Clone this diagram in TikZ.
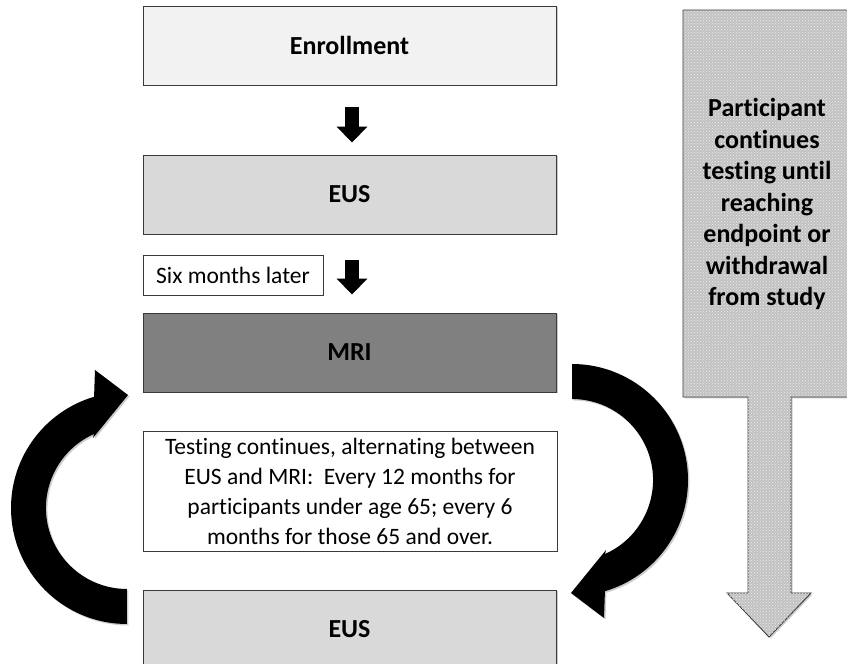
\documentclass[tikz,border=0pt]{standalone}
\usepackage{fontspec}
\setmainfont{Carlito}[Ligatures=NoCommon]
\usetikzlibrary{arrows.meta,patterns,shadows,calc}
\definecolor{bordergray}{HTML}{3A3A3A}
\definecolor{enrfill}{HTML}{F2F2F2}
\definecolor{eusfill}{HTML}{D9D9D9}
\definecolor{mrifill}{HTML}{808080}
\definecolor{bigarrowfill}{HTML}{C2C2C2}
\begin{document}
\begin{tikzpicture}[x=1pt,y=1pt,
  softshadow/.style={drop shadow={shadow xshift=1.5pt,shadow yshift=-1.5pt,fill=black,opacity=0.2}},
  stagebox/.style={draw=bordergray,line width=0.9pt,minimum width=413pt,minimum height=79pt,
    inner sep=0pt,font=\fontsize{26}{30}\selectfont\bfseries,softshadow},
  plainbox/.style={draw=bordergray,line width=0.9pt,fill=white,inner sep=0pt,
    font=\fontsize{23.5}{30}\selectfont,align=center},
  blockarrow/.style={line width=14pt,black,-{Triangle[width=30pt,length=16pt]}},
  curvearrow/.style={fill=black,draw=none,softshadow},
  bigarrow/.style={draw=bordergray,line width=0.9pt,fill=bigarrowfill,softshadow}
]
\useasboundingbox (0,0) rectangle (847,664);
\clip (0,0) rectangle (847,664);

% right big arrow
\path[bigarrow] (683,654) -- (860,654) -- (860,267) -- (791,267) -- (791,71)
  -- (811,71) -- (769,27) -- (727,71) -- (748,71) -- (748,267) -- (683,267) -- cycle;
\path[pattern=crosshatch dots,pattern color=white!85!gray] (683,654) -- (860,654) -- (860,267) -- (791,267) -- (791,71)
  -- (811,71) -- (769,27) -- (727,71) -- (748,71) -- (748,267) -- (683,267) -- cycle;
\node[font=\fontsize{26}{31.5}\selectfont\bfseries,align=center] (cont) at (767,460)
  {Participant\\continues\\testing until\\reaching\\endpoint or\\withdrawal\\from study};

% boxes
\node[stagebox,fill=enrfill] (enr) at (349.5,618.5) {Enrollment};
\node[stagebox,fill=eusfill] (eus1) at (349.5,469.5) {EUS};
\node[plainbox,minimum width=180pt,minimum height=40pt] (sixm) at (233,389) {Six months later};
\node[stagebox,fill=mrifill] (mri) at (349.5,311.5) {MRI};
\node[plainbox,minimum width=414pt,minimum height=120pt] (note) at (350,172.5)
  {Testing continues, alternating between\\EUS and MRI:\ \ Every 12 months for\\participants under age 65; every 6\\months for those 65 and over.};
\node[stagebox,fill=eusfill] (eus2) at (349.5,34.5) {EUS};

% straight block arrows
\draw[blockarrow] ($(enr.south)+(2.5,-22)$) -- ($(eus1.north)+(2.5,12)$);
\draw[blockarrow] ($(eus1.south)+(2.5,-26)$) -- ($(mri.north)+(2.5,18)$);

% left curved arrow (from bottom EUS up to MRI)
\path[curvearrow] (127,40) arc[start angle=270,end angle=106.5,radius=116pt]
  -- (95,294) -- (128,269) -- (93,226) -- (94,230)
  arc[start angle=114,end angle=270,radius=81pt] -- cycle;
% right curved arrow (from MRI down to bottom EUS)
\path[curvearrow] (572,300) arc[start angle=90,end angle=-73.5,radius=116pt]
  -- (604,46) -- (571,71) -- (606,114) -- (605,110)
  arc[start angle=-66,end angle=90,radius=81pt] -- cycle;
\end{tikzpicture}
\end{document}
